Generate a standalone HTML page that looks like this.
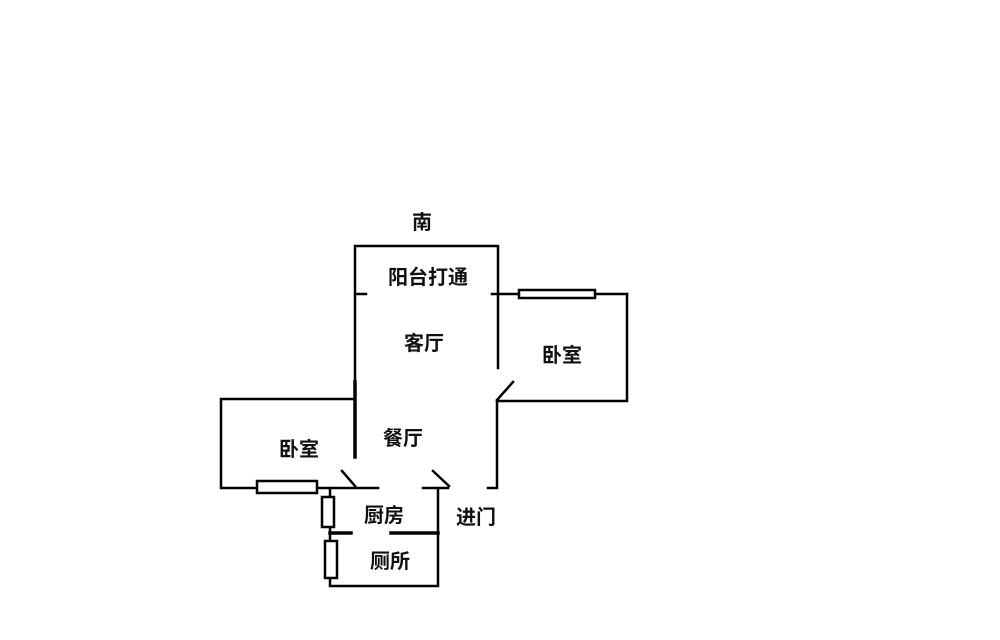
<!DOCTYPE html>
<html><head><meta charset="utf-8"><style>
html,body{margin:0;padding:0;background:#fff;width:1000px;height:640px;overflow:hidden}
text{font-family:"Liberation Sans","Noto Sans CJK SC",sans-serif;font-weight:bold;font-size:20px;fill:#111}
</style></head><body>
<svg width="1000" height="640" viewBox="0 0 1000 640">
<g stroke="#000" stroke-width="2.5" fill="none" stroke-linecap="square">
<!-- main column -->
<polyline points="355,455 355,246 498,246 498,368"/>
<line x1="356" y1="294" x2="366" y2="294"/>
<line x1="492" y1="294" x2="627" y2="294"/>
<rect x="519" y="290" width="76" height="8" fill="#fff"/>
<polyline points="627,294 627,401 497,401 497,488 488,488"/>
<line x1="497" y1="400" x2="513" y2="382"/>
<!-- left bedroom -->
<polyline points="355,399 221,399 221,488 378,488"/>
<rect x="257" y="481" width="60" height="12" fill="#fff"/>
<line x1="355" y1="382" x2="355" y2="457" stroke-width="3.5"/>
<line x1="342" y1="471" x2="355" y2="486"/>
<line x1="423" y1="488" x2="448" y2="488"/>
<line x1="433" y1="471" x2="449" y2="486"/>
<!-- kitchen/toilet -->
<polyline points="330,488 330,586 438,586 438,488"/>
<rect x="322" y="497" width="12" height="30" fill="#fff"/>
<rect x="325" y="541" width="12" height="37" fill="#fff"/>
<line x1="330" y1="533" x2="351" y2="533" stroke-width="3.5"/>
<line x1="391" y1="533" x2="438" y2="533" stroke-width="3.5"/>
</g>
<text x="412" y="229">南</text>
<text x="388" y="284">阳台打通</text>
<text x="404" y="350">客厅</text>
<text x="542" y="362">卧室</text>
<text x="383" y="445">餐厅</text>
<text x="279" y="456">卧室</text>
<text x="364" y="522">厨房</text>
<text x="456" y="524">进门</text>
<text x="370" y="568">厕所</text>
</svg>
</body></html>
